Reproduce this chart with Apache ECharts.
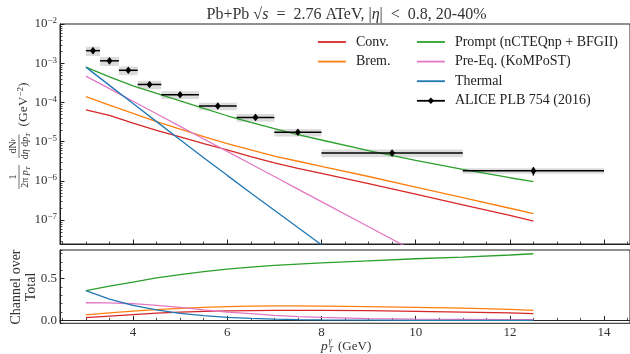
<!DOCTYPE html>
<html><head><meta charset="utf-8">
<script src="https://cdn.jsdelivr.net/npm/echarts@6/dist/echarts.min.js"></script>
<style>html,body{margin:0;padding:0;background:#fff}#c{width:630px;height:354px}</style>
</head><body><div id="c"></div>
<script>
// ---- data ----
const pT = [3.0,3.5,4.0,4.5,5.0,5.5,6.0,6.5,7.0,7.5,8.0,9.0,10.0,11.0,12.0,12.5];
const conv    = [6.46e-5,4.68e-5,2.95e-5,1.95e-5,1.32e-5,8.91e-6,6.17e-6,4.17e-6,2.88e-6,2.09e-6,1.55e-6,8.51e-7,4.57e-7,2.45e-7,1.32e-7,9.33e-8];
const brem    = [1.41e-4,8.51e-5,5.25e-5,3.24e-5,2.09e-5,1.35e-5,8.91e-6,6.17e-6,4.27e-6,3.16e-6,2.34e-6,1.29e-6,6.92e-7,3.72e-7,2.00e-7,1.45e-7];
const prompt  = [7.94e-4,4.47e-4,2.63e-4,1.70e-4,1.10e-4,7.08e-5,4.57e-5,3.09e-5,2.14e-5,1.51e-5,1.10e-5,5.89e-6,3.31e-6,1.95e-6,1.20e-6,9.55e-7];
const preeq   = [4.68e-4,2.24e-4,1.07e-4,5.13e-5,2.45e-5,1.17e-5,5.62e-6,2.69e-6,1.29e-6,6.17e-7,2.95e-7,6.76e-8,1.55e-8,3.55e-9,8.1e-10,3.9e-10];
const thermal = [7.94e-4,2.72e-4,9.33e-5,3.24e-5,1.12e-5,3.89e-6,1.38e-6,4.90e-7,1.78e-7,6.46e-8,2.34e-8,3.16e-9,4.37e-10,6.3e-11,8.9e-12,3.4e-12];

const ratioConv    = [0.033,0.052,0.070,0.087,0.099,0.108,0.114,0.118,0.120,0.121,0.120,0.116,0.108,0.100,0.089,0.080];
const ratioBrem    = [0.067,0.090,0.112,0.130,0.145,0.157,0.165,0.171,0.173,0.173,0.171,0.165,0.156,0.146,0.132,0.120];
const ratioPrompt  = [0.356,0.410,0.460,0.510,0.550,0.585,0.615,0.640,0.660,0.675,0.690,0.715,0.740,0.760,0.785,0.800];
const ratioPreeq   = [0.212,0.210,0.200,0.180,0.155,0.125,0.100,0.080,0.060,0.046,0.035,0.022,0.016,0.012,0.009,0.008];
const ratioThermal = [0.356,0.255,0.180,0.125,0.085,0.057,0.036,0.023,0.015,0.010,0.006,0.002,0.001,0.0005,0.0002,0.0001];

const aliceX     = [3.15,3.5,3.9,4.35,5.0,5.8,6.6,7.5,9.5,12.5];
const aliceXLow  = [3.0,3.3,3.7,4.1,4.6,5.4,6.2,7.0,8.0,11.0];
const aliceXHigh = [3.3,3.7,4.1,4.6,5.4,6.2,7.0,8.0,11.0,14.0];
const aliceY     = [2.09e-3,1.15e-3,6.6e-4,2.87e-4,1.57e-4,8.07e-5,4.15e-5,1.73e-5,5.15e-6,1.80e-6];
const aliceStat  = [0.04,0.04,0.05,0.05,0.06,0.07,0.08,0.10,0.18,0.24];
const aliceSys   = [0.27,0.26,0.25,0.24,0.22,0.22,0.22,0.22,0.22,0.16];

const names = ['Conv.','Brem.','Prompt (nCTEQnp + BFGII)','Pre-Eq. (KoMPoST)','Thermal'];
const aliceName = 'ALICE PLB 754 (2016)';
const colors = ['#d62728','#ff7f0e','#2ca02c','#e377c2','#1f77b4'];

// ---- layout / style ----
const FONT = 'Liberation Serif';
const TXT = '#333';
const X_MIN = 2.45, X_MAX = 14.55;
const Y_MIN = 2.45e-8, Y_MAX = 1e-2;
const R_MIN = -0.035, R_MAX = 0.845;

const topSets = [conv, brem, prompt, preeq, thermal];
const ratioSets = [ratioConv, ratioBrem, ratioPrompt, ratioPreeq, ratioThermal];

const minorLog = [];
for (let k = -8; k <= -3; k++) for (let m = 2; m <= 9; m++) { const v = m * Math.pow(10, k); if (v >= Y_MIN && v <= Y_MAX) minorLog.push(v); }

const aliceData = aliceX.map((x, i) => [x, aliceY[i], aliceXLow[i], aliceXHigh[i],
  aliceY[i] * (1 - aliceStat[i]), aliceY[i] * (1 + aliceStat[i]),
  aliceY[i] * (1 - aliceSys[i]), aliceY[i] * (1 + aliceSys[i])]);

const series = [];
names.forEach((n, i) => {
  series.push({type:'line', name:n, xAxisIndex:0, yAxisIndex:0, data:pT.map((x,j)=>[x, topSets[i][j]]),
    symbol:'none', lineStyle:{width:1.3, color:colors[i]}, itemStyle:{color:colors[i]}, z:3, silent:true});
});
names.forEach((n, i) => {
  series.push({type:'line', name:n, xAxisIndex:2, yAxisIndex:1, data:pT.map((x,j)=>[x, ratioSets[i][j]]),
    symbol:'none', lineStyle:{width:1.3, color:colors[i]}, itemStyle:{color:colors[i]}, z:3, silent:true});
});
// ALICE systematic boxes
series.push({type:'custom', name:'aliceBoxes', xAxisIndex:0, yAxisIndex:0, data:aliceData, z:1, silent:true,
  encode:{x:[0,2,3], y:[1,6,7]},
  renderItem:(p, api) => {
    const a = api.coord([api.value(2), api.value(7)]);
    const b = api.coord([api.value(3), api.value(6)]);
    return {type:'rect', shape:{x:a[0], y:a[1], width:b[0]-a[0], height:b[1]-a[1]}, style:{fill:'#dcdcdc'}};
  }});
// ALICE error bars and markers
series.push({type:'custom', name:'aliceBars', xAxisIndex:0, yAxisIndex:0, data:aliceData, z:4, silent:true,
  encode:{x:[0,2,3], y:[1,4,5]},
  renderItem:(p, api) => {
    const c = api.coord([api.value(0), api.value(1)]);
    const l = api.coord([api.value(2), api.value(1)]);
    const r = api.coord([api.value(3), api.value(1)]);
    const lo = api.coord([api.value(0), api.value(4)]);
    const hi = api.coord([api.value(0), api.value(5)]);
    return {type:'group', children:[
      {type:'line', shape:{x1:l[0], y1:l[1], x2:r[0], y2:r[1]}, style:{stroke:'#000', lineWidth:1.5}},
      {type:'line', shape:{x1:lo[0], y1:lo[1], x2:hi[0], y2:hi[1]}, style:{stroke:'#000', lineWidth:1.5}},
      {type:'polygon', shape:{points:[[c[0], c[1]-3.8],[c[0]+3, c[1]],[c[0], c[1]+3.8],[c[0]-3, c[1]]]}, style:{fill:'#000'}}
    ]};
  }});
// legend-only entry for ALICE
series.push({type:'line', name:aliceName, xAxisIndex:0, yAxisIndex:0, data:[], symbol:'diamond', symbolSize:[6,7],
  lineStyle:{width:1.5, color:'#000'}, itemStyle:{color:'#000'}});
// log minor ticks on top panel y axis
series.push({type:'custom', name:'minorLog', xAxisIndex:0, yAxisIndex:0, data:minorLog.map(v => [X_MIN, v]), z:6, silent:true,
  renderItem:(p, api) => {
    const c = api.coord([X_MIN, api.value(1)]);
    return {type:'line', shape:{x1:c[0], y1:Math.round(c[1])+0.5, x2:c[0]+2.5, y2:Math.round(c[1])+0.5}, style:{stroke:'#222', lineWidth:0.8}};
  }});

const tickLbl = {fontFamily:FONT, color:TXT};
const majorTick = {show:true, inside:true, length:4.5, lineStyle:{color:'#222', width:1}};
const minorTickS = {show:true, inside:true, length:2.5, lineStyle:{color:'#222', width:0.8}};
const hideSym = {opacity:0};
const legendText = {fontFamily:FONT, fontSize:14, color:'#222', lineHeight:14, padding:[0,0,0,5]};

const option = {
  animation:false,
  backgroundColor:'#fff',
  grid:[
    {left:60, top:24, width:573, height:220, show:true, borderColor:'#222', borderWidth:1, backgroundColor:'transparent'},
    {left:60, top:250, width:573, height:73.3, show:true, borderColor:'#222', borderWidth:1, backgroundColor:'transparent'}
  ],
  xAxis:[
    {type:'value', gridIndex:0, position:'bottom', min:X_MIN, max:X_MAX, splitNumber:6, axisLine:{show:true, lineStyle:{color:'#222'}}, axisTick:majorTick, axisLabel:{show:false}, splitLine:{show:false}},
    {type:'value', gridIndex:0, position:'bottom', min:X_MIN, max:X_MAX, splitNumber:24, axisLine:{show:false}, axisTick:minorTickS, axisLabel:{show:false}, splitLine:{show:false}},
    {type:'value', gridIndex:1, position:'bottom', min:X_MIN, max:X_MAX, splitNumber:6, axisLine:{show:true, lineStyle:{color:'#222'}}, axisTick:majorTick,
      axisLabel:{show:true, showMinLabel:false, showMaxLabel:false, margin:3, fontSize:13, ...tickLbl, formatter:v=>String(v)}, splitLine:{show:false}},
    {type:'value', gridIndex:1, position:'bottom', min:X_MIN, max:X_MAX, splitNumber:24, axisLine:{show:false}, axisTick:minorTickS, axisLabel:{show:false}, splitLine:{show:false}}
  ],
  yAxis:[
    {type:'log', gridIndex:0, position:'left', min:Y_MIN, max:Y_MAX, logBase:10, axisLine:{show:true, lineStyle:{color:'#222'}}, axisTick:majorTick, splitLine:{show:false},
      axisLabel:{show:true, showMinLabel:false, margin:3, ...tickLbl,
        formatter:v => { const e = Math.round(Math.log10(v)); return '{b|10}{s|' + (e < 0 ? '\u2212' : '') + Math.abs(e) + '}'; },
        rich:{b:{fontSize:13, lineHeight:15, fontFamily:FONT, color:TXT}, s:{fontSize:9, lineHeight:9, verticalAlign:'top', fontFamily:FONT, color:TXT}}}},
    {type:'value', gridIndex:1, position:'left', min:R_MIN, max:R_MAX, splitNumber:2, axisLine:{show:true, lineStyle:{color:'#222'}}, axisTick:majorTick, splitLine:{show:false},
      axisLabel:{show:true, showMinLabel:false, showMaxLabel:false, margin:3, fontSize:13, ...tickLbl, formatter:v => v.toFixed(1)}},
    {type:'value', gridIndex:1, position:'left', min:R_MIN, max:R_MAX, splitNumber:9, axisLine:{show:false}, axisTick:minorTickS, axisLabel:{show:false}, splitLine:{show:false}}
  ],
  legend:[
    {data:[{name:names[0], itemStyle:hideSym}, {name:names[1], itemStyle:hideSym}], orient:'vertical', left:317, top:35, padding:0,
      itemWidth:28, itemHeight:8, itemGap:5.6, textStyle:legendText, lineStyle:{width:1.8}},
    {data:[{name:names[2], itemStyle:hideSym}, {name:names[3], itemStyle:hideSym}, {name:names[4], itemStyle:hideSym}, aliceName],
      orient:'vertical', left:416, top:35, padding:0, itemWidth:28, itemHeight:8, itemGap:5.6, textStyle:legendText, lineStyle:{width:1.8}}
  ],
  graphic:[
    {type:'text', x:346.5, y:14.5, silent:true, style:{text:'Pb+Pb {r|\u221a}{i|s}  =  2.76 ATeV, |{i|\u03b7}|  <  0.8, 20-40%',
      fontFamily:FONT, fontSize:16, fill:TXT, textFill:TXT, align:'center', textAlign:'center', verticalAlign:'middle', textVerticalAlign:'middle',
      rich:{i:{fontStyle:'italic', fontFamily:FONT, fontSize:16, fill:TXT, textFill:TXT}, r:{fontFamily:FONT, fontSize:16, fill:TXT, textFill:TXT}}}},
    // top y label
    {type:'group', x:19, y:134, rotation:Math.PI/2, silent:true, children:[
      {type:'text', x:29.5, y:4.5, style:{text:'(GeV{s|\u22122})', fontFamily:FONT, fontSize:13.5, fill:TXT, textFill:TXT, align:'center', textAlign:'center', verticalAlign:'middle', textVerticalAlign:'middle',
        rich:{s:{fontSize:9, lineHeight:8, verticalAlign:'top', fontFamily:FONT, fill:TXT, textFill:TXT}}}},
      {type:'text', x:-12, y:-0.8, style:{text:'dN{s|\u03b3}', fontFamily:FONT, fontSize:10, fill:TXT, textFill:TXT, align:'center', textAlign:'center', verticalAlign:'bottom', textVerticalAlign:'bottom',
        rich:{s:{fontSize:7, lineHeight:6, verticalAlign:'top', fontStyle:'italic', fontFamily:FONT, fill:TXT, textFill:TXT}}}},
      {type:'line', shape:{x1:-24, y1:0, x2:-0.5, y2:0}, style:{stroke:TXT, lineWidth:0.7}},
      {type:'text', x:-12, y:0.8, style:{text:'d{i|\u03b7} d{i|p}{t|T}', fontFamily:FONT, fontSize:10, fill:TXT, textFill:TXT, align:'center', textAlign:'center', verticalAlign:'top', textVerticalAlign:'top',
        rich:{i:{fontStyle:'italic', fontFamily:FONT, fontSize:10, lineHeight:12, fill:TXT, textFill:TXT}, t:{fontSize:7, lineHeight:6, verticalAlign:'bottom', fontStyle:'italic', fontFamily:FONT, fill:TXT, textFill:TXT}}}},
      {type:'text', x:-43, y:-0.8, style:{text:'1', fontFamily:FONT, fontSize:10, fill:TXT, textFill:TXT, align:'center', textAlign:'center', verticalAlign:'bottom', textVerticalAlign:'bottom'}},
      {type:'line', shape:{x1:-55, y1:0, x2:-31, y2:0}, style:{stroke:TXT, lineWidth:0.7}},
      {type:'text', x:-43, y:0.8, style:{text:'2\u03c0 {i|p}{t|T}', fontFamily:FONT, fontSize:10, fill:TXT, textFill:TXT, align:'center', textAlign:'center', verticalAlign:'top', textVerticalAlign:'top',
        rich:{i:{fontStyle:'italic', fontFamily:FONT, fontSize:10, lineHeight:12, fill:TXT, textFill:TXT}, t:{fontSize:7, lineHeight:6, verticalAlign:'bottom', fontStyle:'italic', fontFamily:FONT, fill:TXT, textFill:TXT}}}}
    ]},
    // bottom y label
    {type:'text', x:24, y:287, rotation:Math.PI/2, silent:true, style:{text:'Channel over\nTotal', fontFamily:FONT, fontSize:14, lineHeight:14.5, fill:TXT, textFill:TXT,
      align:'center', textAlign:'center', verticalAlign:'middle', textVerticalAlign:'middle'}},
    // x label
    {type:'text', x:321, y:346, silent:true, style:{text:'p', fontFamily:FONT, fontSize:13.5, fontStyle:'italic', fill:TXT, textFill:TXT, align:'left', textAlign:'left', verticalAlign:'middle', textVerticalAlign:'middle'}},
    {type:'text', x:328.5, y:341, silent:true, style:{text:'\u03b3', fontFamily:FONT, fontSize:8, fontStyle:'italic', fill:TXT, textFill:TXT, align:'left', textAlign:'left', verticalAlign:'middle', textVerticalAlign:'middle'}},
    {type:'text', x:328.5, y:349.5, silent:true, style:{text:'T', fontFamily:FONT, fontSize:8, fontStyle:'italic', fill:TXT, textFill:TXT, align:'left', textAlign:'left', verticalAlign:'middle', textVerticalAlign:'middle'}},
    {type:'text', x:338, y:346.5, silent:true, style:{text:'(GeV)', fontFamily:FONT, fontSize:13, fill:TXT, textFill:TXT, align:'left', textAlign:'left', verticalAlign:'middle', textVerticalAlign:'middle'}}
  ],
  series:series
};
const chart = echarts.init(document.getElementById('c'), null, {renderer:'canvas'});
chart.setOption(option);
</script>
</body></html>
